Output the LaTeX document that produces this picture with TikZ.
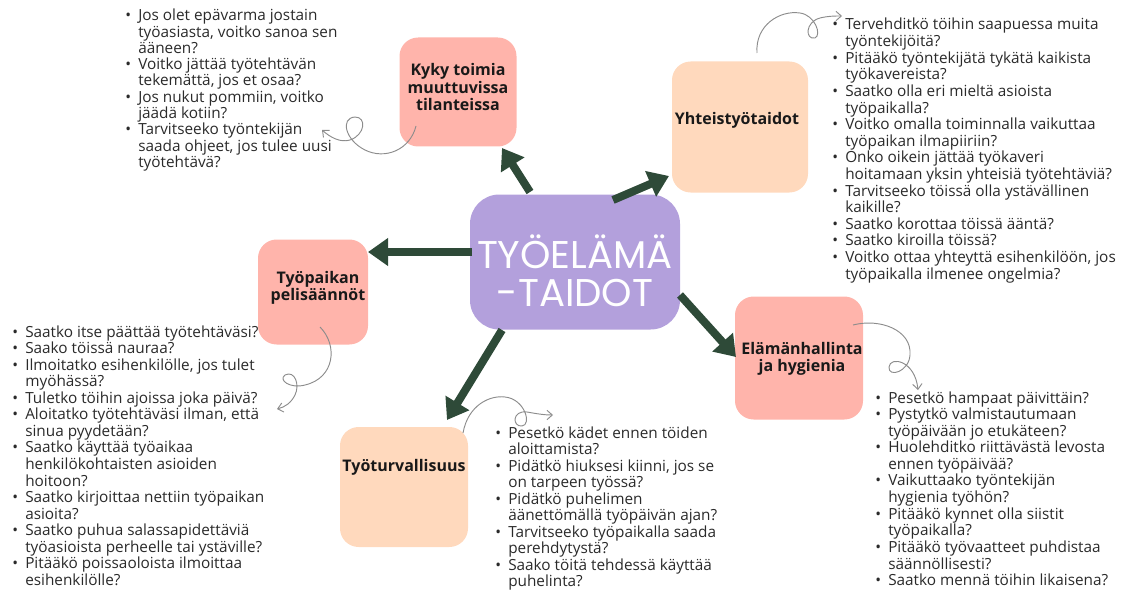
\documentclass[tikz,border=0pt]{standalone}
\usepackage{fontspec}
\setmainfont{Open Sans}
\newfontfamily\titlefont{Poppins}
\usetikzlibrary{arrows.meta}
\definecolor{salmon}{HTML}{FFB4AB}
\definecolor{peach}{HTML}{FFD9BD}
\definecolor{lav}{HTML}{B3A0DC}
\definecolor{dgreen}{HTML}{2E4A38}
\definecolor{txt}{HTML}{2A2A2A}
\definecolor{curlc}{HTML}{8C8C8C}
\begin{document}
\begin{tikzpicture}[x=0.75pt,y=-0.75pt,
 box/.style={rounded corners=14pt, inner sep=0pt},
 ttl/.style={font=\fontsize{12}{12.8}\selectfont\bfseries, align=center, text=black!90, inner sep=0pt},
 lst/.style={text=txt, inner sep=0pt, anchor=base west},
 bigarrow/.style={draw=dgreen, line width=6pt, -{Triangle[width=20pt,length=15pt]}},
 curly/.style={draw=curlc, line width=0.7pt, -{Straight Barb[length=4pt,width=7pt]}}
]
\useasboundingbox (0,0) rectangle (1133,592);

% boxes
\node[box, fill=lav, rounded corners=22pt, minimum width=210*0.75pt, minimum height=135*0.75pt] (c) at (575,262) {};
\node[box, fill=salmon, minimum width=117*0.75pt, minimum height=109*0.75pt] (kyky) at (458,92) {};
\node[box, fill=peach, minimum width=136*0.75pt, minimum height=131*0.75pt] (yht) at (740,127) {};
\node[box, fill=salmon, minimum width=110*0.75pt, minimum height=105*0.75pt] (pel) at (313,292) {};
\node[box, fill=peach, minimum width=128*0.75pt, minimum height=120*0.75pt] (turv) at (404,487) {};
\node[box, fill=salmon, minimum width=128*0.75pt, minimum height=123*0.75pt] (elam) at (799,358) {};

% titles
\node[text=white, font=\titlefont\fontsize{29}{28.5}\selectfont, align=center, inner sep=0pt] (ct) at (575,271) {TYÖELÄMÄ\\-TAIDOT};
\node[ttl] (tkyky) at (458,87) {Kyky toimia\\muuttuvissa\\tilanteissa};
\node[ttl] (tyht) at (737,120) {Yhteistyötaidot};
\node[ttl] (tpel) at (318,288) {Työpaikan\\pelisäännöt};
\node[ttl] (tturv) at (404,467) {Työturvallisuus};
\node[ttl] (telam) at (802,359) {Elämänhallinta\\ja hygienia};

% big arrows
\coordinate (a1s) at (530,192); \coordinate (a1e) at (502,148);
\coordinate (a2s) at (613,200); \coordinate (a2e) at (669,176);
\coordinate (a3s) at (472,252); \coordinate (a3e) at (368,252);
\coordinate (a4s) at (502,330); \coordinate (a4e) at (447,420);
\coordinate (a5s) at (680,295); \coordinate (a5e) at (736,357);
\draw[bigarrow] (a1s) -- (a1e);
\draw[bigarrow] (a2s) -- (a2e);
\draw[bigarrow] (a3s) -- (a3e);
\draw[bigarrow] (a4s) -- (a4e);
\draw[bigarrow] (a5s) -- (a5e);

% lists
\node[lst, font=\fontsize{11.5}{11.7}\selectfont] (l1) at (125,21) {\begin{tabular}[t]{@{}p{9.75pt}@{}l@{}}
\textbullet & Jos olet epävarma jostain\\
 & työasiasta, voitko sanoa sen\\
 & ääneen?\\
\textbullet & Voitko jättää työtehtävän\\
 & tekemättä, jos et osaa?\\
\textbullet & Jos nukut pommiin, voitko\\
 & jäädä kotiin?\\
\textbullet & Tarvitseeko työntekijän\\
 & saada ohjeet, jos tulee uusi\\
 & työtehtävä?
\end{tabular}};

\node[lst, font=\fontsize{11.5}{12.4}\selectfont] (l2) at (832,30) {\begin{tabular}[t]{@{}p{9.75pt}@{}l@{}}
\textbullet & Tervehditkö töihin saapuessa muita\\
 & työntekijöitä?\\
\textbullet & Pitääkö työntekijätä tykätä kaikista\\
 & työkavereista?\\
\textbullet & Saatko olla eri mieltä asioista\\
 & työpaikalla?\\
\textbullet & Voitko omalla toiminnalla vaikuttaa\\
 & työpaikan ilmapiiriin?\\
\textbullet & Onko oikein jättää työkaveri\\
 & hoitamaan yksin yhteisiä työtehtäviä?\\
\textbullet & Tarvitseeko töissä olla ystävällinen\\
 & kaikille?\\
\textbullet & Saatko korottaa töissä ääntä?\\
\textbullet & Saatko kiroilla töissä?\\
\textbullet & Voitko ottaa yhteyttä esihenkilöön, jos\\
 & työpaikalla ilmenee ongelmia?
\end{tabular}};

\node[lst, font=\fontsize{11.5}{12.3}\selectfont] (l3) at (12,337) {\begin{tabular}[t]{@{}p{9.75pt}@{}l@{}}
\textbullet & Saatko itse päättää työtehtäväsi?\\
\textbullet & Saako töissä nauraa?\\
\textbullet & Ilmoitatko esihenkilölle, jos tulet\\
 & myöhässä?\\
\textbullet & Tuletko töihin ajoissa joka päivä?\\
\textbullet & Aloitatko työtehtäväsi ilman, että\\
 & sinua pyydetään?\\
\textbullet & Saatko käyttää työaikaa\\
 & henkilökohtaisten asioiden\\
 & hoitoon?\\
\textbullet & Saatko kirjoittaa nettiin työpaikan\\
 & asioita?\\
\textbullet & Saatko puhua salassapidettäviä\\
 & työasioista perheelle tai ystäville?\\
\textbullet & Pitääkö poissaoloista ilmoittaa\\
 & esihenkilölle?
\end{tabular}};

\node[lst, font=\fontsize{11.5}{12.3}\selectfont] (l4) at (495,438) {\begin{tabular}[t]{@{}p{9.75pt}@{}l@{}}
\textbullet & Pesetkö kädet ennen töiden\\
 & aloittamista?\\
\textbullet & Pidätkö hiuksesi kiinni, jos se\\
 & on tarpeen työssä?\\
\textbullet & Pidätkö puhelimen\\
 & äänettömällä työpäivän ajan?\\
\textbullet & Tarvitseeko työpaikalla saada\\
 & perehdytystä?\\
\textbullet & Saako töitä tehdessä käyttää\\
 & puhelinta?
\end{tabular}};

\node[lst, font=\fontsize{11.5}{12.4}\selectfont] (l5) at (875,403) {\begin{tabular}[t]{@{}p{9.75pt}@{}l@{}}
\textbullet & Pesetkö hampaat päivittäin?\\
\textbullet & Pystytkö valmistautumaan\\
 & työpäivään jo etukäteen?\\
\textbullet & Huolehditko riittävästä levosta\\
 & ennen työpäivää?\\
\textbullet & Vaikuttaako työntekijän\\
 & hygienia työhön?\\
\textbullet & Pitääkö kynnet olla siistit\\
 & työpaikalla?\\
\textbullet & Pitääkö työvaatteet puhdistaa\\
 & säännöllisesti?\\
\textbullet & Saatko mennä töihin likaisena?
\end{tabular}};

% curly connectors
\coordinate (k0) at (416,126); \coordinate (k1) at (322,130);
\draw[curly] (k0) .. controls (410,150) and (385,160) .. (365,150) .. controls (345,140) and (340,118) .. (355,117) .. controls (367,117) and (365,135) .. (350,140) .. controls (340,143) and (330,137) .. (k1);
\coordinate (y0) at (757,53); \coordinate (y1) at (842,16);
\draw[curly] (y0) .. controls (755,25) and (780,10) .. (800,13) .. controls (815,15) and (822,35) .. (815,38) .. controls (805,40) and (805,22) .. (820,18) .. controls (828,16) and (835,16) .. (y1);
\coordinate (p0) at (320,327); \coordinate (p1) at (277,409);
\draw[curly] (p0) .. controls (338,345) and (335,378) .. (305,385) .. controls (290,389) and (278,380) .. (285,375) .. controls (295,370) and (300,385) .. (295,395) .. controls (291,403) and (285,407) .. (p1);
\coordinate (t0) at (463,433); \coordinate (t1) at (553,415);
\draw[curly] (t0) .. controls (468,405) and (490,395) .. (505,397) .. controls (525,399) and (532,425) .. (522,426) .. controls (512,427) and (512,410) .. (527,412) .. controls (538,414) and (545,415) .. (t1);
\coordinate (e0) at (853,325); \coordinate (e1) at (918,390);
\draw[curly] (e0) .. controls (880,318) and (912,330) .. (910,355) .. controls (909,372) and (888,378) .. (889,367) .. controls (890,356) and (915,360) .. (e1);
\end{tikzpicture}
\end{document}
